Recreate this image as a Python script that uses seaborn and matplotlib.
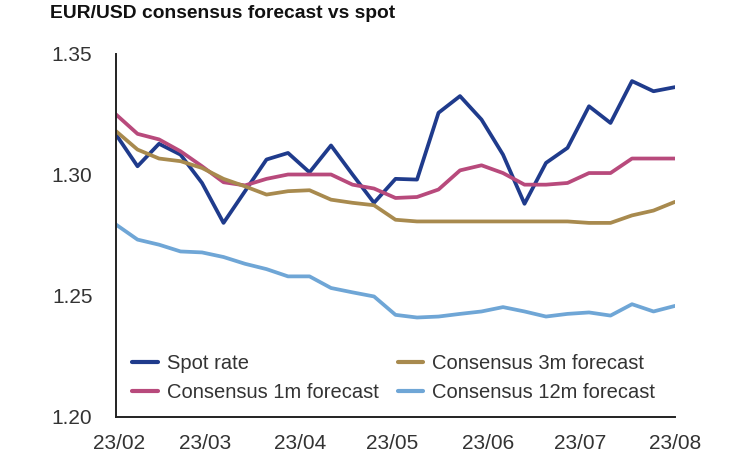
import pandas as pd
import seaborn as sns
import matplotlib
matplotlib.use("Agg")
from matplotlib import pyplot as plt
import matplotlib.dates as mdates

# weekly observations, end of Jan 2023 to start of Aug 2023
dates = pd.date_range("2023-01-31", periods=27, freq="7D")

spot = [1.3167, 1.3036, 1.3129, 1.3084, 1.2967, 1.2802, 1.2933, 1.3064, 1.3091,
        1.3011, 1.3122, 1.3002, 1.2885, 1.2984, 1.2981, 1.3257, 1.3326, 1.3229,
        1.3084, 1.2881, 1.3050, 1.3112, 1.3284, 1.3215, 1.3388, 1.3346, 1.3363]
fc_1m = [1.3250, 1.3170, 1.3147, 1.3098, 1.3036, 1.2970, 1.2957, 1.2984, 1.3002,
         1.3002, 1.3002, 1.2960, 1.2944, 1.2905, 1.2909, 1.2940, 1.3019, 1.3040,
         1.3008, 1.2960, 1.2960, 1.2967, 1.3008, 1.3008, 1.3068, 1.3068, 1.3068]
fc_3m = [1.3181, 1.3105, 1.3068, 1.3057, 1.3029, 1.2984, 1.2953, 1.2919, 1.2933,
         1.2937, 1.2898, 1.2885, 1.2875, 1.2815, 1.2808, 1.2808, 1.2808, 1.2808,
         1.2808, 1.2808, 1.2808, 1.2808, 1.2802, 1.2802, 1.2833, 1.2853, 1.2889]
fc_12m = [1.2795, 1.2733, 1.2712, 1.2684, 1.2680, 1.2661, 1.2633, 1.2611, 1.2581,
          1.2581, 1.2533, 1.2515, 1.2498, 1.2422, 1.2411, 1.2415, 1.2426, 1.2436,
          1.2454, 1.2436, 1.2415, 1.2426, 1.2432, 1.2419, 1.2466, 1.2436, 1.2459]

series_names = ["Spot rate", "Consensus 1m forecast",
                "Consensus 3m forecast", "Consensus 12m forecast"]
colors = ["#1f3b8c", "#b84a7c", "#a88a4e", "#6fa6d6"]

df = pd.concat([
    pd.DataFrame({"date": dates, "value": vals, "series": name})
    for name, vals in zip(series_names, [spot, fc_1m, fc_3m, fc_12m])
])

sns.set_style("white")
plt.rcParams["font.family"] = ["Liberation Sans", "DejaVu Sans"]

fig = plt.figure(figsize=(7.5, 4.63), dpi=100)
ax = fig.add_axes([0.1547, 0.0994, 0.9 - 0.1547, 0.8834 - 0.0994])

sns.lineplot(data=df, x="date", y="value", hue="series", hue_order=series_names,
             palette=colors, linewidth=2.7, ax=ax, legend=False)

ax.set_xlim(dates[0], dates[-1])
ax.set_ylim(1.20, 1.35)
ax.set_yticks([1.20, 1.25, 1.30, 1.35])
ax.yaxis.set_major_formatter(matplotlib.ticker.FormatStrFormatter("%.2f"))
ax.xaxis.set_major_locator(mdates.MonthLocator())
ax.xaxis.set_major_formatter(mdates.DateFormatter("%y/%m"))
ax.set_xlabel("")
ax.set_ylabel("")

for side in ["top", "right"]:
    ax.spines[side].set_visible(False)
for side in ["left", "bottom"]:
    ax.spines[side].set_color("#222222")
    ax.spines[side].set_linewidth(1.4)

ax.tick_params(axis="both", direction="out", length=5, width=1.4, color="#222222",
               labelsize=15, labelcolor="#333333")
ax.tick_params(axis="y", pad=12)
ax.tick_params(axis="x", pad=7)

handles = [plt.Line2D([], [], color=c, linewidth=3) for c in colors]
ax.legend(handles, series_names, ncol=2, frameon=False, loc="upper left",
          bbox_to_anchor=(0.015, 0.195), fontsize=14.5, labelcolor="#333333",
          handlelength=1.25, handletextpad=0.45, columnspacing=0.95,
          labelspacing=0.5, borderaxespad=0)

fig.text(0.067, 0.99, "EUR/USD consensus forecast vs spot", fontsize=13.9,
         fontweight="bold", color="#111111", va="top", ha="left")

fig.savefig("out.png", dpi=100)
